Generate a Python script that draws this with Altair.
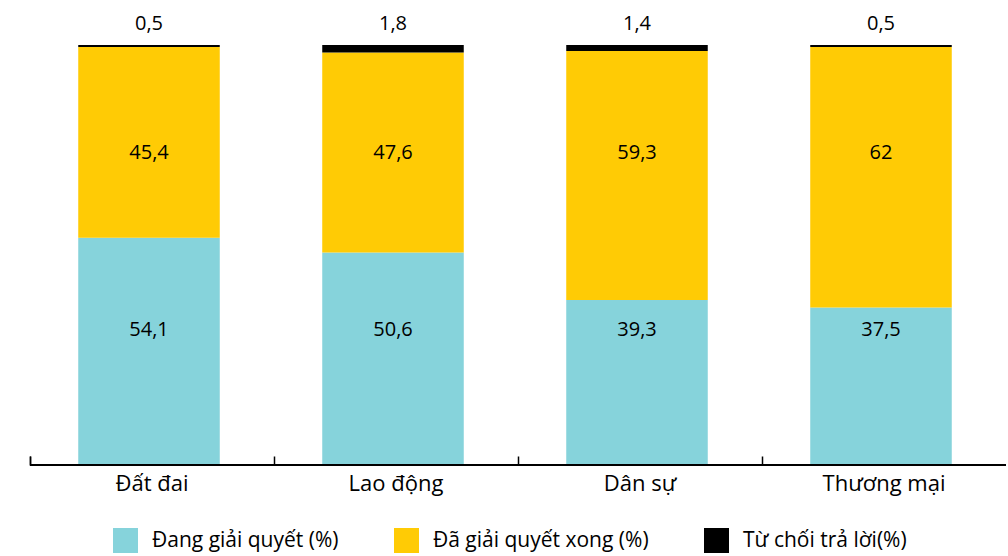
import altair as alt
import pandas as pd

categories = ["Đất đai", "Lao động", "Dân sự", "Thương mại"]
series = ["Đang giải quyết (%)", "Đã giải quyết xong (%)", "Từ chối trả lời(%)"]
dang_giai_quyet = [54.1, 50.6, 39.3, 37.5]
da_giai_quyet_xong = [45.4, 47.6, 59.3, 62.0]
tu_choi = [0.5, 1.8, 1.4, 0.5]
colors = ["#86D3DB", "#FFCB05", "#000000"]

rows = []
for i, c in enumerate(categories):
    for j, (s, vals) in enumerate(zip(series, [dang_giai_quyet, da_giai_quyet_xong, tu_choi])):
        v = vals[i]
        lab = (f"{v:g}").replace(".", ",")
        rows.append({"cat": c, "series": s, "value": v, "order": j, "label": lab})
df = pd.DataFrame(rows)

FONT = "Open Sans"

x = alt.X("cat:N", sort=categories, title=None,
          scale=alt.Scale(paddingInner=0, paddingOuter=0),
          axis=alt.Axis(domain=False, ticks=True, bandPosition=0, tickExtra=True, tickSize=9,
                        tickColor="#000000", tickWidth=1.5, offset=-9, zindex=1,
                        labelAngle=0, labelFont=FONT, labelFontSize=22,
                        labelColor="#000000", labelPadding=8, labelBaseline="top"))

base = alt.Chart(df).transform_stack(
    stack="value", groupby=["cat"], sort=[alt.SortField("order")], as_=["y0", "y1"]
)

bars = base.mark_bar(stroke=None, width=alt.RelativeBandSize(0.58), xOffset=-3).encode(
    x=x,
    y=alt.Y("y0:Q", scale=alt.Scale(domain=[0, 100]), axis=None),
    y2="y1:Q",
    color=alt.Color("series:N", sort=series,
                    scale=alt.Scale(domain=series, range=colors),
                    legend=alt.Legend(title=None, orient="none", legendX=83, legendY=483,
                                      direction="horizontal", symbolType="square",
                                      symbolSize=625, symbolStrokeWidth=0,
                                      labelFont=FONT, labelFontSize=21,
                                      labelColor="#000000", labelOffset=14,
                                      columnPadding=55, labelLimit=400)),
)

text_style = dict(font=FONT, fontSize=20, color="#000000", baseline="middle", dx=-3)

yellow_text = base.transform_filter(alt.datum.order == 1).mark_text(**text_style).encode(
    x=alt.X("cat:N", sort=categories), y=alt.value(108), text="label:N")

teal_text = base.transform_filter(alt.datum.order == 0).mark_text(**text_style).encode(
    x=alt.X("cat:N", sort=categories), y=alt.value(285), text="label:N")

top_text = base.transform_filter(alt.datum.order == 2).mark_text(**text_style, dy=-21).encode(
    x=alt.X("cat:N", sort=categories), y=alt.Y("y1:Q"), text="label:N")

baseline = alt.Chart(df).mark_rule(color="#000000", strokeWidth=2).encode(
    y=alt.datum(0), x=alt.value(0), x2=alt.value(976)
)

chart = alt.layer(bars, yellow_text, teal_text, top_text, baseline).properties(
    width=976, height=420,
    autosize=alt.AutoSizeParams(type="none"),
    padding={"left": 30, "top": 45, "right": 2, "bottom": 91},
).configure_view(stroke=None)

chart.save("out.html", embed_options={"renderer": "svg", "actions": False})
